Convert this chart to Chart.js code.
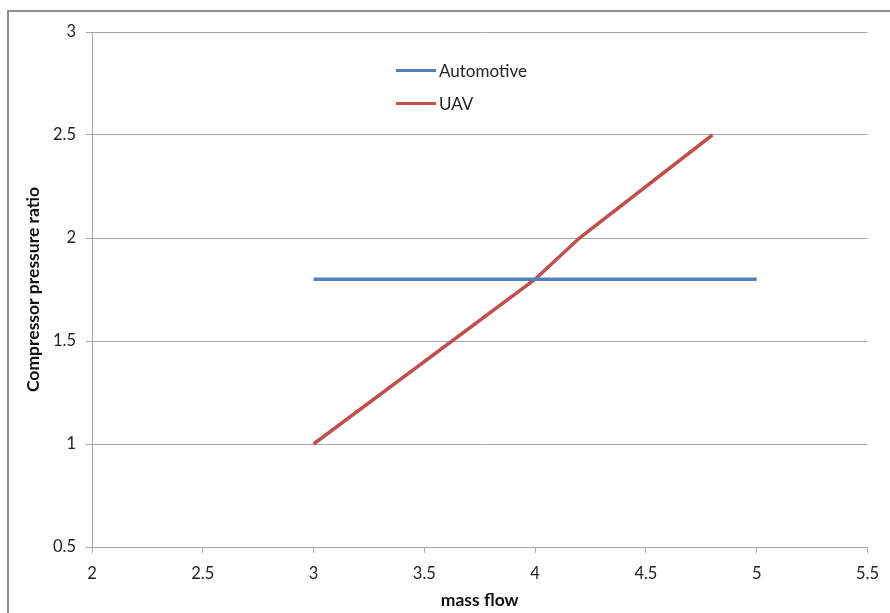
<!DOCTYPE html>
<html>
<head>
<meta charset="utf-8">
<script src="https://cdn.jsdelivr.net/npm/chart.js@4.4.1/dist/chart.umd.min.js"></script>
<style>
  html, body { margin: 0; padding: 0; background: #fff; }
  #wrap { position: relative; width: 890px; height: 613px; overflow: hidden; }
  #legend { position: absolute; left: 396px; top: 54px; font-family: Lato, "Open Sans", sans-serif; font-size: 17px; color: #222; }
  #legend div { display: flex; align-items: center; height: 33px; }
  #legend span.sw { display: inline-block; width: 40px; height: 3.5px; margin-right: 3px; }
</style>
</head>
<body>
<div id="wrap">
  <canvas id="c" width="890" height="613"></canvas>
  <div id="legend"></div>
</div>
<script>
// Compressor operating lines: pressure ratio against mass flow
const automotiveFlow = [3, 5];
const automotiveRatio = [1.8, 1.8];
const uavFlow = [3, 4, 4.2, 4.8];
const uavRatio = [1.0, 1.8, 2.0, 2.5];

const seriesNames = ['Automotive', 'UAV'];
const seriesColors = ['#4F81BD', '#C0504D'];

const xTicks = [2, 2.5, 3, 3.5, 4, 4.5, 5, 5.5];
const yTicks = [0.5, 1, 1.5, 2, 2.5, 3];

const toPoints = (xs, ys) => xs.map((x, i) => ({ x: x, y: ys[i] }));

const fontFamily = 'Lato, "Open Sans", sans-serif';

// Outer frame around the chart
const framePlugin = {
  id: 'frame',
  beforeDraw(chart) {
    const ctx = chart.ctx;
    ctx.save();
    ctx.strokeStyle = '#8c8c8c';
    ctx.lineWidth = 2;
    ctx.beginPath();
    ctx.moveTo(8, chart.height + 5);
    ctx.lineTo(8, 11);
    ctx.lineTo(chart.width + 5, 11);
    ctx.stroke();
    ctx.restore();
  }
};

const chart = new Chart(document.getElementById('c'), {
  type: 'line',
  data: {
    datasets: [
      {
        label: seriesNames[0],
        data: toPoints(automotiveFlow, automotiveRatio),
        borderColor: seriesColors[0],
        backgroundColor: seriesColors[0],
        borderWidth: 3.5,
        pointRadius: 0,
        tension: 0
      },
      {
        label: seriesNames[1],
        data: toPoints(uavFlow, uavRatio),
        borderColor: seriesColors[1],
        backgroundColor: seriesColors[1],
        borderWidth: 3.5,
        pointRadius: 0,
        tension: 0
      }
    ]
  },
  options: {
    responsive: false,
    animation: false,
    layout: { padding: { top: 32, right: 22, bottom: 0, left: 0 } },
    plugins: {
      legend: { display: false },
      tooltip: { enabled: false }
    },
    scales: {
      x: {
        type: 'linear',
        min: 2,
        max: 5.5,
        afterBuildTicks(axis) { axis.ticks = xTicks.map(v => ({ value: v })); },
        afterFit(axis) { axis.height = 66; },
        ticks: {
          color: '#222',
          font: { family: fontFamily, size: 16.5 },
          padding: 11,
          maxRotation: 0,
          callback: v => String(v)
        },
        grid: {
          drawOnChartArea: false,
          drawTicks: true,
          tickLength: 6,
          color: '#a6a6a6'
        },
        border: { color: '#a6a6a6', width: 1 },
        title: {
          display: true,
          text: 'mass flow',
          color: '#111',
          font: { family: fontFamily, size: 17.5, weight: 'bold' },
          padding: { top: 0, bottom: 2.5 }
        }
      },
      y: {
        type: 'linear',
        min: 0.5,
        max: 3,
        afterBuildTicks(axis) { axis.ticks = yTicks.map(v => ({ value: v })); },
        afterFit(axis) { axis.width = 92; },
        ticks: {
          color: '#222',
          font: { family: fontFamily, size: 16.5 },
          padding: 10,
          callback: v => String(v)
        },
        grid: {
          drawTicks: true,
          tickLength: 6,
          color: '#a6a6a6'
        },
        border: { color: '#a6a6a6', width: 1 },
        title: {
          display: true,
          text: 'Compressor pressure ratio',
          color: '#111',
          font: { family: fontFamily, size: 17.5, weight: 'bold' },
          padding: { top: 22.5, bottom: 0 }
        }
      }
    }
  },
  plugins: [framePlugin]
});

// Legend drawn inside the plot area
const legendEl = document.getElementById('legend');
seriesNames.forEach((name, i) => {
  const row = document.createElement('div');
  const sw = document.createElement('span');
  sw.className = 'sw';
  sw.style.background = seriesColors[i];
  row.appendChild(sw);
  row.appendChild(document.createTextNode(name));
  legendEl.appendChild(row);
});
</script>
</body>
</html>
